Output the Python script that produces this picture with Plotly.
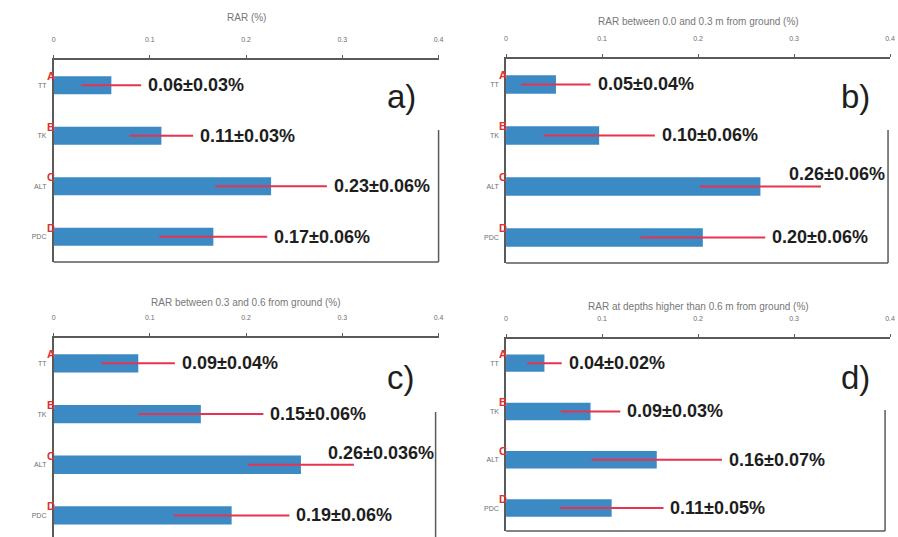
import plotly.graph_objects as go

W, H = 898, 537

categories = ["TT", "TK", "ALT", "PDC"]
letters = ["A", "B", "C", "D"]
tick_vals = [0, 0.1, 0.2, 0.3, 0.4]
tick_text = ["0", "0.1", "0.2", "0.3", "0.4"]

rar_a = [0.060, 0.112, 0.226, 0.166]
err_a = [0.031, 0.033, 0.058, 0.056]
labels_a = ["0.06±0.03%", "0.11±0.03%", "0.23±0.06%", "0.17±0.06%"]
title_a = "RAR (%)"

rar_b = [0.052, 0.097, 0.265, 0.205]
err_b = [0.036, 0.058, 0.063, 0.065]
labels_b = ["0.05±0.04%", "0.10±0.06%", "0.26±0.06%", "0.20±0.06%"]
title_b = "RAR between 0.0 and 0.3 m from ground (%)"

rar_c = [0.088, 0.153, 0.257, 0.185]
err_c = [0.038, 0.065, 0.055, 0.060]
labels_c = ["0.09±0.04%", "0.15±0.06%", "0.26±0.036%", "0.19±0.06%"]
title_c = "RAR between 0.3 and 0.6 from ground (%)"

rar_d = [0.040, 0.088, 0.157, 0.110]
err_d = [0.018, 0.031, 0.068, 0.054]
labels_d = ["0.04±0.02%", "0.09±0.03%", "0.16±0.07%", "0.11±0.05%"]
title_d = "RAR at depths higher than 0.6 m from ground (%)"

BAR_COLOR = "#3b8ac4"
ERR_COLOR = "#e8324f"
AXIS_COLOR = "#5a5a5a"
LIGHT = "#777777"


def px(x):
    return x / W


def py(y):
    return 1 - y / H


# pixel geometry of each panel (layout only)
panels = [
    dict(vals=rar_a, errs=err_a, labels=labels_a, title=title_a, tag="a)",
         x0=52, x1=440, y0=60, ybot=262, unit=50.5, rx=440, rtop=130, box_bottom=True,
         tagx=403, tagy=96, titley=18),
    dict(vals=rar_b, errs=err_b, labels=labels_b, title=title_b, tag="b)",
         x0=508, x1=895, y0=59, ybot=263, unit=51, rx=893, rtop=130, box_bottom=True,
         tagx=860, tagy=97, titley=22),
    dict(vals=rar_c, errs=err_c, labels=labels_c, title=title_c, tag="c)",
         x0=52, x1=440, y0=338, ybot=537, unit=50.7, rx=437, rtop=412, box_bottom=False,
         tagx=402, tagy=377, titley=302),
    dict(vals=rar_d, errs=err_d, labels=labels_d, title=title_d, tag="d)",
         x0=508, x1=895, y0=339, ybot=531, unit=48.3, rx=890, rtop=410, box_bottom=True,
         tagx=860, tagy=377, titley=306),
]

fig = go.Figure()
annotations = []
shapes = []
LABEL_PX = 100  # approx width of value label

for i, p in enumerate(panels, start=1):
    xa = "x" if i == 1 else f"x{i}"
    ya = "y" if i == 1 else f"y{i}"
    fig.add_trace(go.Bar(
        x=p["vals"], y=categories, orientation="h",
        marker=dict(color=BAR_COLOR, line=dict(width=0)),
        error_x=dict(type="data", array=p["errs"], visible=True,
                     color=ERR_COLOR, thickness=2, width=0),
        xaxis=xa, yaxis=ya, showlegend=False, width=0.36,
    ))
    span = (p["ybot"] - p["y0"]) / p["unit"]
    xkey = "xaxis" if i == 1 else f"xaxis{i}"
    ykey = "yaxis" if i == 1 else f"yaxis{i}"
    fig.update_layout({
        xkey: dict(domain=[px(p["x0"]), px(p["x1"])], range=[0, 0.4], side="top",
                   anchor=ya, tickvals=tick_vals, ticktext=tick_text,
                   showline=True, linecolor=AXIS_COLOR, linewidth=1.5,
                   ticks="outside", ticklen=3, tickcolor=AXIS_COLOR,
                   tickfont=dict(size=7, color="#6e6e6e", family="Arial"),
                   ticklabelstandoff=10, showgrid=False, zeroline=False,
                   fixedrange=True),
        ykey: dict(domain=[py(p["ybot"]), py(p["y0"])], type="category",
                   categoryarray=categories, range=[span - 0.5, -0.5],
                   anchor=xa, showline=True, linecolor=AXIS_COLOR, linewidth=1.5,
                   ticks="", tickfont=dict(size=7, color="#6e6e6e", family="Arial"),
                   ticklabelstandoff=4,
                   showgrid=False, zeroline=False, fixedrange=True),
    })
    # axis title
    annotations.append(dict(
        text=p["title"], xref="paper", yref="paper",
        x=px((p["x0"] + p["x1"]) / 2), y=py(p["titley"]),
        showarrow=False, font=dict(size=10, color=LIGHT, family="Arial"),
        xanchor="center", yanchor="middle"))
    # panel tag
    annotations.append(dict(
        text=p["tag"], xref="paper", yref="paper",
        x=px(p["tagx"]), y=py(p["tagy"]), showarrow=False,
        font=dict(size=33, color="#1e1e1e", family="Arial"),
        xanchor="center", yanchor="middle"))
    ppu = (p["x1"] - p["x0"]) / 0.4  # pixels per unit
    for cat, letter, v, e, lab in zip(categories, letters, p["vals"], p["errs"], p["labels"]):
        # red group letters
        annotations.append(dict(
            text="<b>" + letter + "</b>", xref=xa, yref=ya, x=0, y=cat, showarrow=False,
            xanchor="center", yanchor="middle", xshift=-3, yshift=9,
            font=dict(size=11, color="#e03030", family="Arial")))
        end = v + e
        if end * ppu + 5 + LABEL_PX > (p["x1"] - p["x0"]):
            annotations.append(dict(
                text="<b>" + lab + "</b>", xref=xa, yref=ya, x=0.4, y=cat, showarrow=False,
                xanchor="right", yanchor="middle", xshift=-3, yshift=12,
                font=dict(size=18, color="#1e1e1e", family="Arial")))
        else:
            annotations.append(dict(
                text="<b>" + lab + "</b>", xref=xa, yref=ya, x=end, y=cat, showarrow=False,
                xanchor="left", yanchor="middle", xshift=5,
                font=dict(size=18, color="#1e1e1e", family="Arial")))
    # bottom border
    if p["box_bottom"]:
        shapes.append(dict(type="line", xref="paper", yref="paper",
                           x0=px(p["x0"]), x1=px(p["rx"]),
                           y0=py(p["ybot"]), y1=py(p["ybot"]),
                           line=dict(color=AXIS_COLOR, width=1.5)))
    # partial right border
    shapes.append(dict(type="line", xref="paper", yref="paper",
                       x0=px(p["rx"]), x1=px(p["rx"]),
                       y0=py(p["rtop"]), y1=py(p["ybot"]),
                       line=dict(color=AXIS_COLOR, width=1.5)))

fig.update_layout(
    width=W, height=H, margin=dict(l=0, r=0, t=0, b=0),
    paper_bgcolor="white", plot_bgcolor="white",
    annotations=annotations, shapes=shapes,
    font=dict(family="Arial"),
)

fig.write_html("out.html", config={"displayModeBar": False},
               post_script="document.body.style.margin='0';")
